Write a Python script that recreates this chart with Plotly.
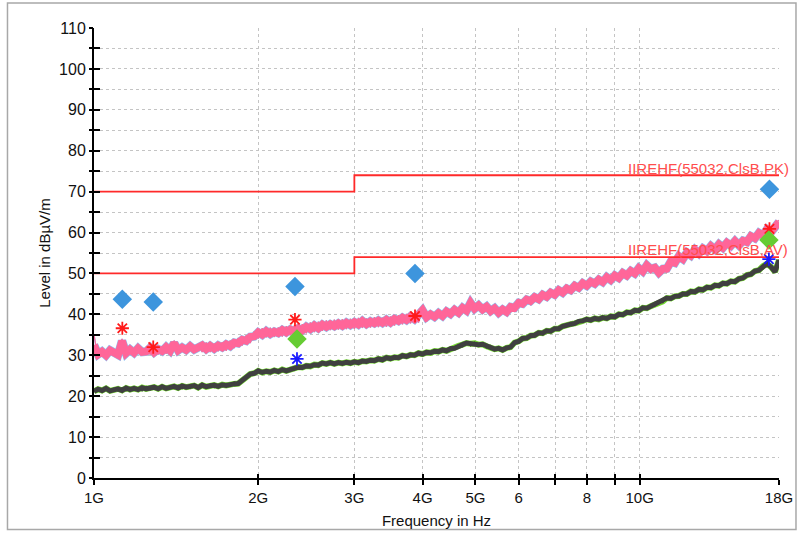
import numpy as np
import plotly.graph_objects as go

# ---------------- data ----------------
# peak detector sweep: band centre and the spiky raw excursions
peak_center = [
    32.5, 30.2, 30.9, 30.0, 31.2, 30.6, 30.1, 33.5, 30.5, 31.4,
    30.6, 31.7, 30.8, 30.9, 31.8, 30.7, 31.5, 31.0, 32.0, 31.1,
    33.0, 31.2, 31.9, 31.3, 32.2, 31.4, 31.7, 32.4, 31.5, 32.3,
    31.6, 32.4, 31.9, 32.7, 32.2, 33.1, 32.9, 33.8, 33.5, 34.5,
    34.6, 35.6, 35.0, 35.9, 35.2, 35.8, 35.4, 36.2, 35.6, 36.3,
    35.8, 36.6, 36.1, 37.0, 36.4, 37.3, 36.6, 37.5, 36.9, 37.6,
    37.1, 37.8, 37.2, 38.0, 37.4, 38.1, 37.5, 38.4, 37.6, 38.3,
    37.8, 38.5, 37.9, 38.7, 38.0, 38.9, 38.4, 39.2, 38.6, 39.5,
    38.8, 39.7, 41.0, 39.3, 40.0, 39.4, 40.3, 39.6, 40.7, 40.1,
    41.1, 40.4, 41.6, 40.9, 42.8, 41.4, 42.2, 41.2, 41.9, 40.8,
    41.5, 40.4, 41.2, 40.6, 41.8, 41.6, 42.8, 42.6, 43.6, 43.3,
    44.2, 43.7, 44.8, 44.3, 45.3, 44.8, 45.9, 45.3, 46.3, 45.9,
    47.0, 46.5, 47.6, 47.0, 48.0, 47.5, 48.5, 47.9, 49.1, 48.4,
    49.5, 48.9, 50.1, 49.5, 50.6, 50.0, 51.3, 50.5, 52.0, 51.1,
    51.4, 50.2, 51.1, 51.2, 52.9, 52.6, 54.2, 53.5, 55.1, 54.4,
    55.8, 54.9, 56.1, 55.5, 56.7, 55.9, 57.1, 56.3, 57.5, 56.8,
    57.9, 56.9, 58.0, 57.7, 59.1, 58.6, 59.9, 59.3, 60.8, 60.1,
    61.5, 62.6,
]
peak_raw = [
    35.0, 29.3, 31.5, 29.6, 31.9, 29.9, 31.4, 34.0, 29.8, 31.8,
    30.0, 32.1, 30.1, 31.9, 30.2, 32.5, 30.2, 32.2, 30.4, 32.6,
    33.5, 30.6, 32.6, 30.6, 32.8, 30.7, 32.7, 30.8, 33.1, 30.8,
    32.9, 31.0, 33.2, 31.1, 33.6, 31.8, 34.2, 32.4, 34.9, 33.0,
    35.8, 34.1, 36.6, 34.4, 36.7, 34.5, 36.8, 34.6, 37.1, 34.9,
    37.2, 35.1, 37.6, 35.4, 38.0, 35.7, 38.2, 36.0, 38.5, 36.2,
    38.7, 36.3, 38.8, 36.4, 38.9, 36.5, 39.1, 36.7, 39.0, 36.8,
    39.3, 36.9, 39.2, 37.0, 39.5, 37.3, 39.8, 37.6, 40.1, 37.8,
    40.3, 38.0, 41.8, 38.2, 40.7, 38.4, 41.0, 38.6, 41.3, 39.1,
    41.9, 39.5, 42.5, 40.0, 44.0, 40.4, 43.1, 40.3, 42.8, 40.0,
    42.3, 39.6, 42.1, 39.8, 42.7, 40.6, 43.8, 41.6, 44.5, 42.2,
    45.1, 42.8, 45.7, 43.3, 46.2, 43.9, 46.8, 44.4, 47.3, 45.0,
    48.0, 45.6, 48.5, 46.1, 48.9, 46.6, 49.4, 47.0, 50.0, 47.4,
    50.3, 48.0, 50.9, 48.5, 51.5, 49.0, 52.1, 49.6, 52.8, 50.0,
    52.2, 49.3, 52.0, 50.2, 53.8, 51.8, 55.2, 52.9, 55.9, 53.5,
    56.5, 54.0, 56.9, 54.5, 57.4, 55.0, 57.9, 55.4, 58.3, 55.8,
    58.5, 56.0, 58.9, 56.7, 60.0, 57.6, 60.7, 58.4, 61.6, 59.1,
    62.3, 63.0,
]
# average detector sweep: band centre and raw excursions
avg_center = [
    21.2, 21.7, 21.4, 21.9, 21.3, 21.6, 21.8, 21.4, 22.0, 21.6,
    21.9, 21.6, 22.1, 21.8, 21.9, 22.2, 21.8, 22.3, 21.9, 22.1,
    22.4, 22.0, 22.5, 22.2, 22.3, 22.6, 22.1, 22.7, 22.3, 22.5,
    22.7, 22.4, 22.8, 22.6, 22.9, 23.0, 23.1, 23.9, 24.5, 25.4,
    25.6, 26.2, 25.8, 26.1, 25.9, 26.3, 26.0, 26.5, 26.2, 26.6,
    26.7, 27.1, 27.0, 27.4, 27.3, 27.7, 27.6, 28.1, 27.9, 28.2,
    27.9, 28.2, 28.0, 28.3, 28.1, 28.4, 28.2, 28.6, 28.5, 28.8,
    28.7, 29.1, 28.9, 29.4, 29.2, 29.5, 29.4, 29.9, 29.7, 30.1,
    30.0, 30.5, 30.3, 30.7, 30.6, 31.0, 30.9, 31.3, 31.1, 31.6,
    31.7, 32.3, 32.6, 33.0, 32.8, 32.9, 32.6, 32.7, 32.2, 32.0,
    31.5, 31.7, 31.3, 31.8, 32.0, 33.1, 33.4, 34.1, 34.2, 34.8,
    34.9, 35.5, 35.4, 36.0, 35.9, 36.5, 36.5, 37.1, 37.2, 37.6,
    37.8, 38.3, 38.4, 38.8, 38.6, 39.0, 38.8, 39.2, 39.0, 39.5,
    39.4, 40.0, 39.9, 40.5, 40.4, 41.0, 40.9, 41.6, 41.5, 42.0,
    42.4, 43.0, 43.2, 44.0, 43.9, 44.4, 44.5, 45.0, 45.0, 45.6,
    45.5, 46.1, 46.0, 46.6, 46.5, 47.1, 47.0, 47.6, 47.5, 48.1,
    48.0, 48.7, 48.9, 49.6, 49.8, 50.6, 50.8, 51.8, 52.4, 51.6,
    50.4, 53.3,
]
avg_raw = [
    21.0, 21.9, 20.9, 21.8, 21.1, 22.0, 21.2, 22.1, 21.3, 22.2,
    21.4, 22.0, 21.3, 22.4, 21.5, 22.3, 21.6, 22.5, 21.7, 22.4,
    21.8, 22.7, 21.8, 22.6, 21.9, 22.9, 22.0, 22.8, 22.1, 23.0,
    22.1, 22.9, 22.3, 23.1, 22.6, 23.5, 23.0, 24.3, 24.4, 25.8,
    25.3, 26.5, 25.6, 26.4, 25.7, 26.6, 25.8, 26.8, 26.0, 27.0,
    26.3, 27.3, 26.7, 27.6, 27.0, 28.0, 27.4, 28.4, 27.6, 28.5,
    27.6, 28.4, 27.7, 28.6, 27.7, 28.6, 27.9, 28.9, 28.1, 29.1,
    28.4, 29.4, 28.6, 29.6, 28.8, 29.8, 29.1, 30.1, 29.4, 30.4,
    29.7, 30.7, 30.0, 31.1, 30.3, 31.3, 30.6, 31.7, 30.9, 32.0,
    31.4, 32.6, 32.1, 33.3, 32.3, 33.2, 32.2, 32.9, 31.8, 32.4,
    31.1, 31.8, 31.0, 32.1, 31.8, 33.4, 33.0, 34.4, 34.0, 35.2,
    34.5, 35.7, 35.0, 36.2, 35.6, 36.8, 36.2, 37.4, 36.9, 38.0,
    37.5, 38.6, 38.1, 39.0, 38.3, 39.3, 38.6, 39.5, 38.9, 39.9,
    39.3, 40.3, 39.7, 40.8, 40.2, 41.3, 40.7, 41.9, 41.3, 42.4,
    42.0, 43.1, 42.8, 44.3, 43.6, 44.8, 44.2, 45.4, 44.8, 46.0,
    45.3, 46.4, 45.7, 46.9, 46.2, 47.4, 46.8, 47.9, 47.2, 48.4,
    47.9, 49.0, 48.6, 49.9, 49.5, 50.9, 50.4, 52.0, 52.2, 51.2,
    50.3, 53.4,
]

limit_freq = [1e9, 3e9, 18e9]
limit_pk = [70, 74, 74]
limit_av = [50, 54, 54]

pk_final_freq = [1.127e9, 1.284e9, 2.335e9, 3.875e9, 17.29e9]
pk_final_qp = [43.7, 43.0, 46.8, 50.0, 70.6]      # blue diamonds
pk_final_pk = [36.6, 32.0, 38.7, 39.6, 60.9]      # red stars
av_final_freq = [2.355e9, 17.25e9]
av_final_av = [34.0, 58.2]                        # green diamonds
av_final_pk = [29.1, 53.5]                        # blue stars

xtick_vals = [1e9, 2e9, 3e9, 4e9, 5e9, 6e9, 7e9, 8e9, 9e9, 10e9, 18e9]
xtick_text = ["1G", "2G", "3G", "4G", "5G", "6", "", "8", "", "10G", "18G"]
ytick_vals = list(range(0, 111, 10))

# sweep frequency grid (log spaced, one point per sample)
freq_pk = np.geomspace(1e9, 18e9, len(peak_center))
freq_av = np.geomspace(1e9, 18e9, len(avg_center))

FONT = "Liberation Sans, Arial, sans-serif"
RED = "#ff2a2a"

fig = go.Figure()

def line(x, y, color, width):
    fig.add_trace(go.Scatter(x=x, y=y, mode="lines", hoverinfo="skip",
                             line=dict(color=color, width=width)))

# peak sweep: light blue underlay, thin blue hairs, pink band, pink hairs
line(freq_pk, peak_raw, "#8cc4f2", 1.4)
line(freq_pk, peak_center, "#8cc4f2", 8.6)
line(freq_pk, peak_center, "#ff6699", 7.6)
line(freq_pk, peak_raw, "#ff6699", 1.2)
# average sweep: green underlay, dark grey band, grey hairs
line(freq_av, avg_raw, "#77dd33", 1.4)
line(freq_av, avg_center, "#77dd33", 6.0)
line(freq_av, avg_center, "#404040", 5.0)
line(freq_av, avg_raw, "#404040", 1.2)

# limit lines
fig.add_trace(go.Scatter(x=limit_freq, y=limit_pk, mode="lines", line_shape="hv",
                         line=dict(color=RED, width=1.8), hoverinfo="skip"))
fig.add_trace(go.Scatter(x=limit_freq, y=limit_av, mode="lines", line_shape="hv",
                         line=dict(color=RED, width=1.8), hoverinfo="skip"))

# final measurement markers
fig.add_trace(go.Scatter(x=pk_final_freq, y=pk_final_qp, mode="markers",
                         marker=dict(symbol="diamond", size=15, color="#3d95dd")))
fig.add_trace(go.Scatter(x=pk_final_freq, y=pk_final_pk, mode="markers",
                         marker=dict(symbol="asterisk-open", size=11, color="#ff1a1a",
                                     line=dict(color="#ff1a1a", width=1.8))))
fig.add_trace(go.Scatter(x=av_final_freq, y=av_final_av, mode="markers",
                         marker=dict(symbol="diamond", size=15, color="#66cc33")))
fig.add_trace(go.Scatter(x=av_final_freq, y=av_final_pk, mode="markers",
                         marker=dict(symbol="asterisk-open", size=11, color="#1a1aff",
                                     line=dict(color="#1a1aff", width=1.8))))

# dummy trace for overlay axes (other halves of the crossing ticks)
fig.add_trace(go.Scatter(x=[1e9], y=[0], xaxis="x2", yaxis="y2", mode="markers",
                         marker=dict(opacity=0), hoverinfo="skip"))

# limit labels
for lvl, txt, ys in [(74, "IIREHF(55032,ClsB,PK)", -4), (54, "IIREHF(55032,ClsB,AV)", -3)]:
    fig.add_annotation(x=0.7766, y=lvl, xref="paper", yref="y",
                       text=txt, showarrow=False,
                       xanchor="left", yanchor="bottom", yshift=ys,
                       font=dict(family=FONT, size=15, color="#ff4d4d"))

# outer frame
fig.add_shape(type="rect", xref="paper", yref="paper",
              x0=-0.1263, x1=1.0248, y0=-0.1143, y1=1.0555,
              line=dict(color="#a8a8a8", width=1.5), layer="below")

GRID = "#c4c4c4"

fig.update_layout(
    width=799, height=533,
    margin=dict(l=94, r=20, t=28, b=55),
    paper_bgcolor="white", plot_bgcolor="white",
    showlegend=False,
    font=dict(family=FONT, size=14, color="#111111"),
    xaxis=dict(
        type="log", range=[9, np.log10(18e9)], automargin=False,
        tickmode="array", tickvals=xtick_vals, ticktext=xtick_text,
        ticks="outside", ticklen=5, tickwidth=1.5, tickcolor="black",
        showline=True, linecolor="black", linewidth=2,
        showgrid=True, gridcolor=GRID, gridwidth=1, griddash="dot",
        zeroline=False,
        title=dict(text="Frequency in Hz", font=dict(size=15), standoff=10),
        tickfont=dict(size=15),
    ),
    yaxis=dict(
        range=[0, 110], tickmode="array", tickvals=ytick_vals, automargin=False,
        ticks="inside", ticklen=6, tickwidth=1.5, tickcolor="black",
        showline=True, linecolor="black", linewidth=2,
        showgrid=True, gridcolor=GRID, gridwidth=1, griddash="dot",
        zeroline=False,
        minor=dict(dtick=5, tick0=0, ticks="inside", ticklen=6, tickwidth=1.5,
                   tickcolor="black", showgrid=True, gridcolor=GRID,
                   griddash="dot", gridwidth=1),
        title=dict(text="Level in dBµV/m", font=dict(size=15), standoff=5),
        tickfont=dict(size=16),
        ticklabelstandoff=3,
    ),
    xaxis2=dict(
        type="log", range=[9, np.log10(18e9)], overlaying="x",
        tickmode="array", tickvals=xtick_vals, showticklabels=False,
        ticks="inside", ticklen=4, tickwidth=1.5, tickcolor="black",
        showgrid=False, zeroline=False, showline=False,
    ),
    yaxis2=dict(
        range=[0, 110], overlaying="y", tickmode="array", tickvals=ytick_vals,
        showticklabels=False, ticks="outside", ticklen=4, tickwidth=1.5,
        tickcolor="black", showgrid=False, zeroline=False, showline=False,
        minor=dict(dtick=5, tick0=0, ticks="outside", ticklen=4, tickwidth=1.5,
                   tickcolor="black"),
    ),
)

fig.write_html("out.html")
